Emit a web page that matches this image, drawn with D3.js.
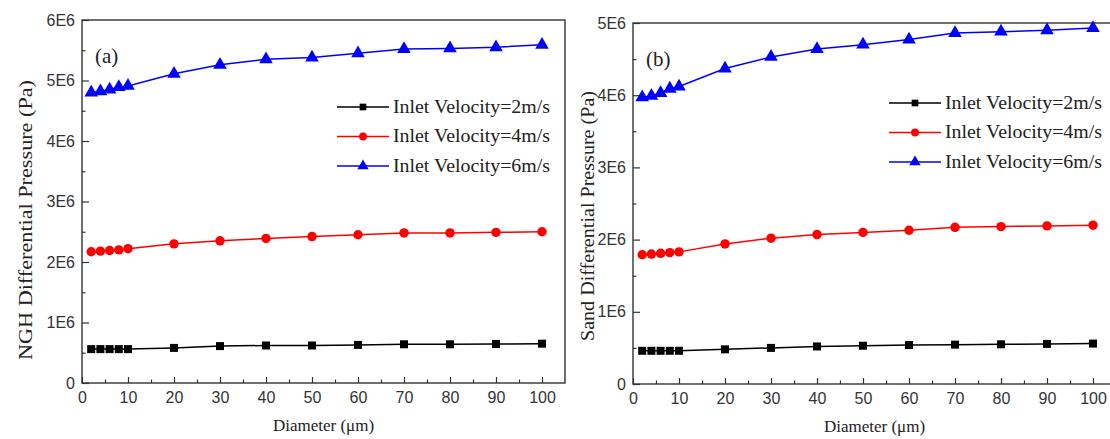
<!DOCTYPE html>
<html>
<head>
<meta charset="utf-8">
<script src="https://cdn.jsdelivr.net/npm/d3@7"></script>
<style>
  body { margin: 0; background: #fff; }
  svg { display: block; }
</style>
</head>
<body>
<script>
// diameters (um) sampled in both panels
var diameters = [2, 4, 6, 8, 10, 20, 30, 40, 50, 60, 70, 80, 90, 100];

// (a) NGH differential pressure, Pa
var nghV2 = [0.56e6, 0.56e6, 0.56e6, 0.56e6, 0.56e6, 0.58e6, 0.61e6, 0.62e6, 0.62e6, 0.63e6, 0.64e6, 0.64e6, 0.645e6, 0.65e6];
var nghV4 = [2.17e6, 2.18e6, 2.19e6, 2.20e6, 2.22e6, 2.30e6, 2.35e6, 2.39e6, 2.42e6, 2.45e6, 2.48e6, 2.48e6, 2.49e6, 2.50e6];
var nghV6 = [4.80e6, 4.82e6, 4.85e6, 4.89e6, 4.91e6, 5.11e6, 5.26e6, 5.35e6, 5.38e6, 5.45e6, 5.52e6, 5.53e6, 5.55e6, 5.59e6];

// (b) sand differential pressure, Pa
var sandV2 = [0.46e6, 0.46e6, 0.46e6, 0.46e6, 0.46e6, 0.48e6, 0.50e6, 0.52e6, 0.53e6, 0.54e6, 0.545e6, 0.55e6, 0.555e6, 0.56e6];
var sandV4 = [1.79e6, 1.80e6, 1.81e6, 1.82e6, 1.83e6, 1.94e6, 2.02e6, 2.07e6, 2.10e6, 2.13e6, 2.17e6, 2.18e6, 2.19e6, 2.20e6];
var sandV6 = [3.97e6, 3.99e6, 4.03e6, 4.09e6, 4.12e6, 4.37e6, 4.53e6, 4.64e6, 4.70e6, 4.77e6, 4.86e6, 4.88e6, 4.90e6, 4.93e6];

var seriesNames = ["Inlet Velocity=2m/s", "Inlet Velocity=4m/s", "Inlet Velocity=6m/s"];
var seriesColors = ["#000000", "#ff0000", "#0000ff"];
var seriesShapes = [d3.symbolSquare, d3.symbolCircle, d3.symbolTriangle];
var symbolSizes = [64, 70, 80];

var xTicks = [0, 10, 20, 30, 40, 50, 60, 70, 80, 90, 100];
var xMinorTicks = [5, 15, 25, 35, 45, 55, 65, 75, 85, 95];
var nghYTicks = [0, 1e6, 2e6, 3e6, 4e6, 5e6, 6e6];
var sandYTicks = [0, 1e6, 2e6, 3e6, 4e6, 5e6];

var serif = "'Liberation Serif', 'Times New Roman', serif";
var sans = "'Liberation Sans', Arial, sans-serif";

var svg = d3.select("body")
            .append("svg")
            .attr("width", 1110)
            .attr("height", 439);

function fmtE(d) {
  return d === 0 ? "0" : (d / 1e6) + "E6";
}

function drawPanel(p) {
  var x = d3.scaleLinear().domain([0, 105]).range([p.left, p.right]);
  var y = d3.scaleLinear().domain([0, p.yMax]).range([p.bottom, p.top]);
  var g = svg.append("g");

  // minor ticks
  var yMinor = d3.range(0.5e6, p.yMax, 1e6);
  g.append("g")
   .attr("transform", "translate(0," + p.bottom + ")")
   .call(d3.axisBottom(x).tickValues(xMinorTicks).tickSize(-3.5).tickFormat(""))
   .call(function(a) { a.select(".domain").remove(); });
  g.append("g")
   .attr("transform", "translate(" + p.left + ",0)")
   .call(d3.axisLeft(y).tickValues(yMinor).tickSize(-3.5).tickFormat(""))
   .call(function(a) { a.select(".domain").remove(); });

  // major axes
  var xa = g.append("g")
   .attr("transform", "translate(0," + p.bottom + ")")
   .call(d3.axisBottom(x).tickValues(xTicks).tickSize(-6).tickPadding(8.5));
  var ya = g.append("g")
   .attr("transform", "translate(" + p.left + ",0)")
   .call(d3.axisLeft(y).tickValues(p.yTicks).tickSize(-7).tickPadding(7).tickFormat(fmtE));
  [xa, ya].forEach(function(a) {
    a.select(".domain").remove();
    a.selectAll("text").attr("font-family", sans).attr("font-size", "16px").attr("fill", "#333");
  });
  g.selectAll(".tick line").attr("stroke", "#333").attr("stroke-width", 1.2);

  // frame
  g.append("rect")
   .attr("x", p.left).attr("y", p.top)
   .attr("width", p.right - p.left).attr("height", p.bottom - p.top)
   .attr("fill", "none").attr("stroke", "#333").attr("stroke-width", 1.4);

  var line = d3.line()
               .x(function(d) { return x(d[0]); })
               .y(function(d) { return y(d[1]); });

  p.series.forEach(function(vals, i) {
    var pts = diameters.map(function(d, j) { return [d, vals[j]]; });
    g.append("path")
     .attr("d", line(pts))
     .attr("fill", "none")
     .attr("stroke", seriesColors[i])
     .attr("stroke-width", 1.5);
    g.selectAll(null)
     .data(pts)
     .enter()
     .append("path")
     .attr("d", d3.symbol().type(seriesShapes[i]).size(symbolSizes[i]))
     .attr("transform", function(d) { return "translate(" + x(d[0]) + "," + y(d[1]) + ")"; })
     .attr("fill", seriesColors[i]);
  });

  // legend
  seriesNames.forEach(function(name, i) {
    var ly = p.legY + i * 29.5;
    g.append("line")
     .attr("x1", p.legX).attr("x2", p.legX + 52)
     .attr("y1", ly).attr("y2", ly)
     .attr("stroke", seriesColors[i]).attr("stroke-width", 1.5);
    g.append("path")
     .attr("d", d3.symbol().type(seriesShapes[i]).size(symbolSizes[i] * 0.7))
     .attr("transform", "translate(" + (p.legX + 26) + "," + ly + ")")
     .attr("fill", seriesColors[i]);
    g.append("text")
     .attr("x", p.legX + 56).attr("y", ly)
     .attr("dy", "0.33em")
     .attr("font-family", serif).attr("font-size", "18px")
     .attr("textLength", 157).attr("lengthAdjust", "spacingAndGlyphs")
     .attr("fill", "#222")
     .text(name);
  });

  // panel tag
  g.append("text")
   .attr("x", p.left + 13).attr("y", p.top + 43)
   .attr("font-family", serif).attr("font-size", "21px").attr("fill", "#222")
   .text(p.tag);

  // axis titles
  g.append("text")
   .attr("x", (p.left + p.right) / 2).attr("y", p.bottom + 48)
   .attr("text-anchor", "middle")
   .attr("font-family", serif).attr("font-size", "17px").attr("fill", "#222")
   .text("Diameter (\u03bcm)");
  g.append("text")
   .attr("transform", "translate(" + p.titleX + "," + p.titleY + ") rotate(-90)")
   .attr("text-anchor", "middle")
   .attr("dy", "0.35em")
   .attr("font-family", serif).attr("font-size", "18px").attr("fill", "#222")
   .attr("textLength", p.titleLen).attr("lengthAdjust", "spacingAndGlyphs")
   .text(p.yTitle);
}

drawPanel({
  left: 82, right: 565, top: 20, bottom: 383, yMax: 6e6, yTicks: nghYTicks,
  series: [nghV2, nghV4, nghV6], tag: "(a)",
  legX: 337, legY: 107, titleX: 26, titleY: 220, titleLen: 280,
  yTitle: "NGH Differential Pressure (Pa)"
});

drawPanel({
  left: 633, right: 1116, top: 23, bottom: 384, yMax: 5e6, yTicks: sandYTicks,
  series: [sandV2, sandV4, sandV6], tag: "(b)",
  legX: 889, legY: 103, titleX: 588, titleY: 216, titleLen: 250,
  yTitle: "Sand Differential Pressure (Pa)"
});
</script>
</body>
</html>
